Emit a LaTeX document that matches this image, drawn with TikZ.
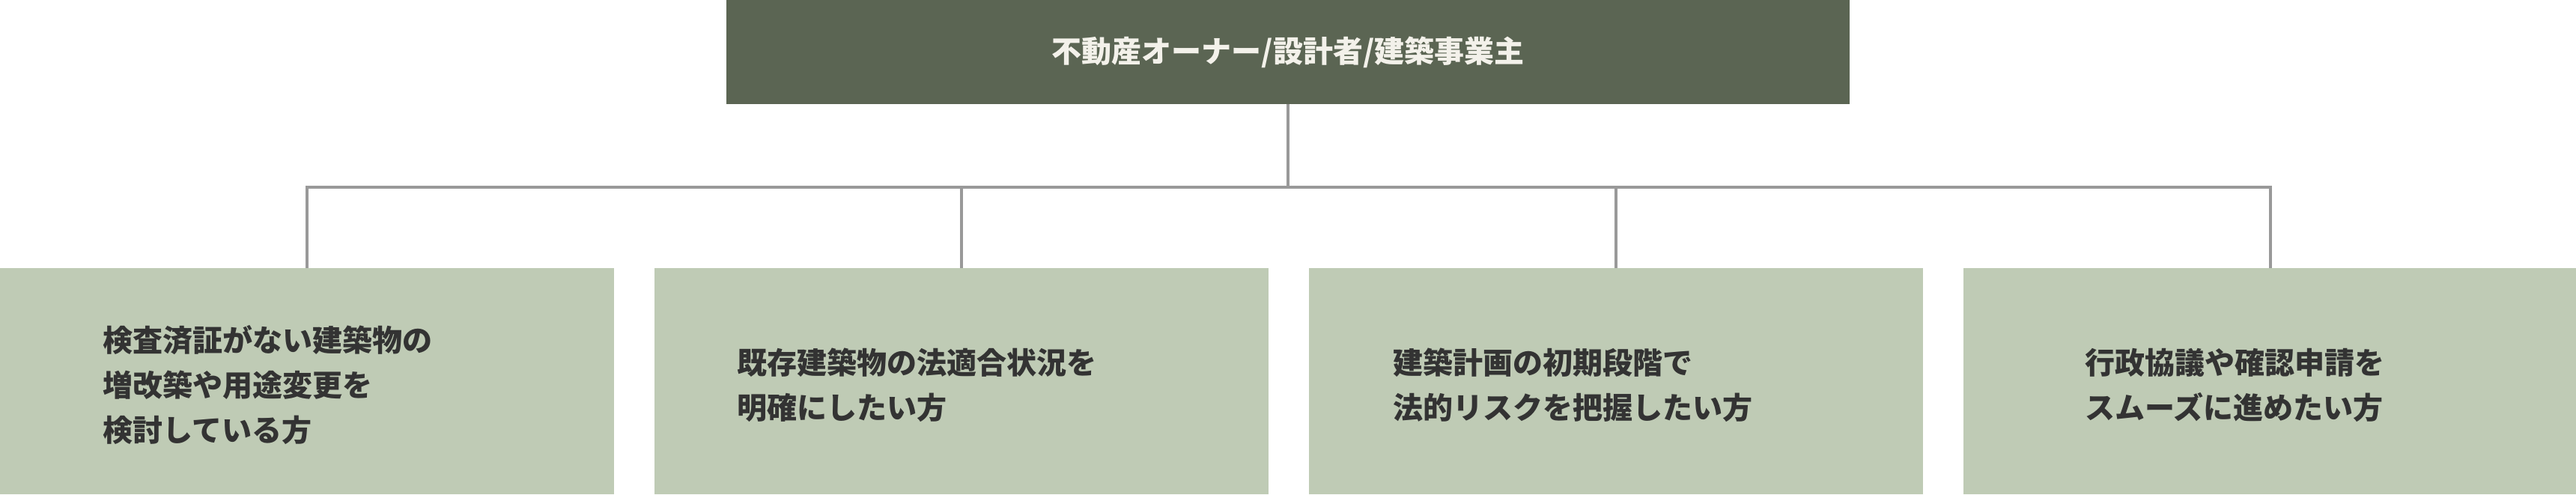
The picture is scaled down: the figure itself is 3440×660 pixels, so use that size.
\documentclass[tikz,border=0pt]{standalone}
\usepackage{fontspec}
\setmainfont{Noto Sans CJK JP}
\usepackage{xcolor}
\definecolor{colorOwner}{HTML}{5B6553}
\definecolor{colorTarget}{HTML}{BFCBB5}
\definecolor{colorLine}{HTML}{999999}
\definecolor{colorText}{HTML}{333333}
\definecolor{colorHead}{HTML}{F3F1EA}
\usetikzlibrary{positioning}
\tikzset{
  owner/.style={rectangle, fill=colorOwner, text=colorHead, minimum width=15cm, minimum height=1.39cm, inner sep=0pt, outer sep=0pt, font=\bfseries\fontsize{11.38pt}{17.07pt}\selectfont},
  target/.style={rectangle, fill=colorTarget, minimum width=8.2cm, minimum height=3.02cm, inner sep=0pt, outer sep=0pt},
  targettext/.style={anchor=west, align=left, inner sep=0pt, text=colorText, font=\bfseries\fontsize{11.38pt}{17.07pt}\selectfont},
  conn/.style={draw=colorLine, line width=1pt}
}

\begin{document}
\begin{tikzpicture}[x=0.01cm, y=-0.01cm, node distance=0.5333cm]
\useasboundingbox (0,0) rectangle (3440,660);
% owner on top
\node[owner, anchor=north] (owner) at (1720,0) {不動産オーナー/設計者/建築事業主};
% four target groups
\node[target, anchor=north west] (t1) at (0,358) {};
\node[target, right=of t1] (t2) {};
\node[target, right=of t2] (t3) {};
\node[target, right=of t3] (t4) {};
\node[targettext] (l1) at ([xshift=1.37cm, yshift=-0.05cm]t1.west) {検査済証がない建築物の\\増改築や用途変更を\\検討している方};
\node[targettext] (l2) at ([xshift=1.10cm, yshift=-0.05cm]t2.west) {既存建築物の法適合状況を\\明確にしたい方};
\node[targettext] (l3) at ([xshift=1.12cm, yshift=-0.05cm]t3.west) {建築計画の初期段階で\\法的リスクを把握したい方};
\node[targettext] (l4) at ([xshift=1.62cm, yshift=-0.05cm]t4.west) {行政協議や確認申請を\\スムーズに進めたい方};
% connectors
\coordinate (bus) at (1720,250);
\draw[conn] (owner.south) -- (bus);
\foreach \t in {t1,t2,t3,t4}
  \draw[conn] (\t.north) |- (bus);
\end{tikzpicture}
\end{document}
